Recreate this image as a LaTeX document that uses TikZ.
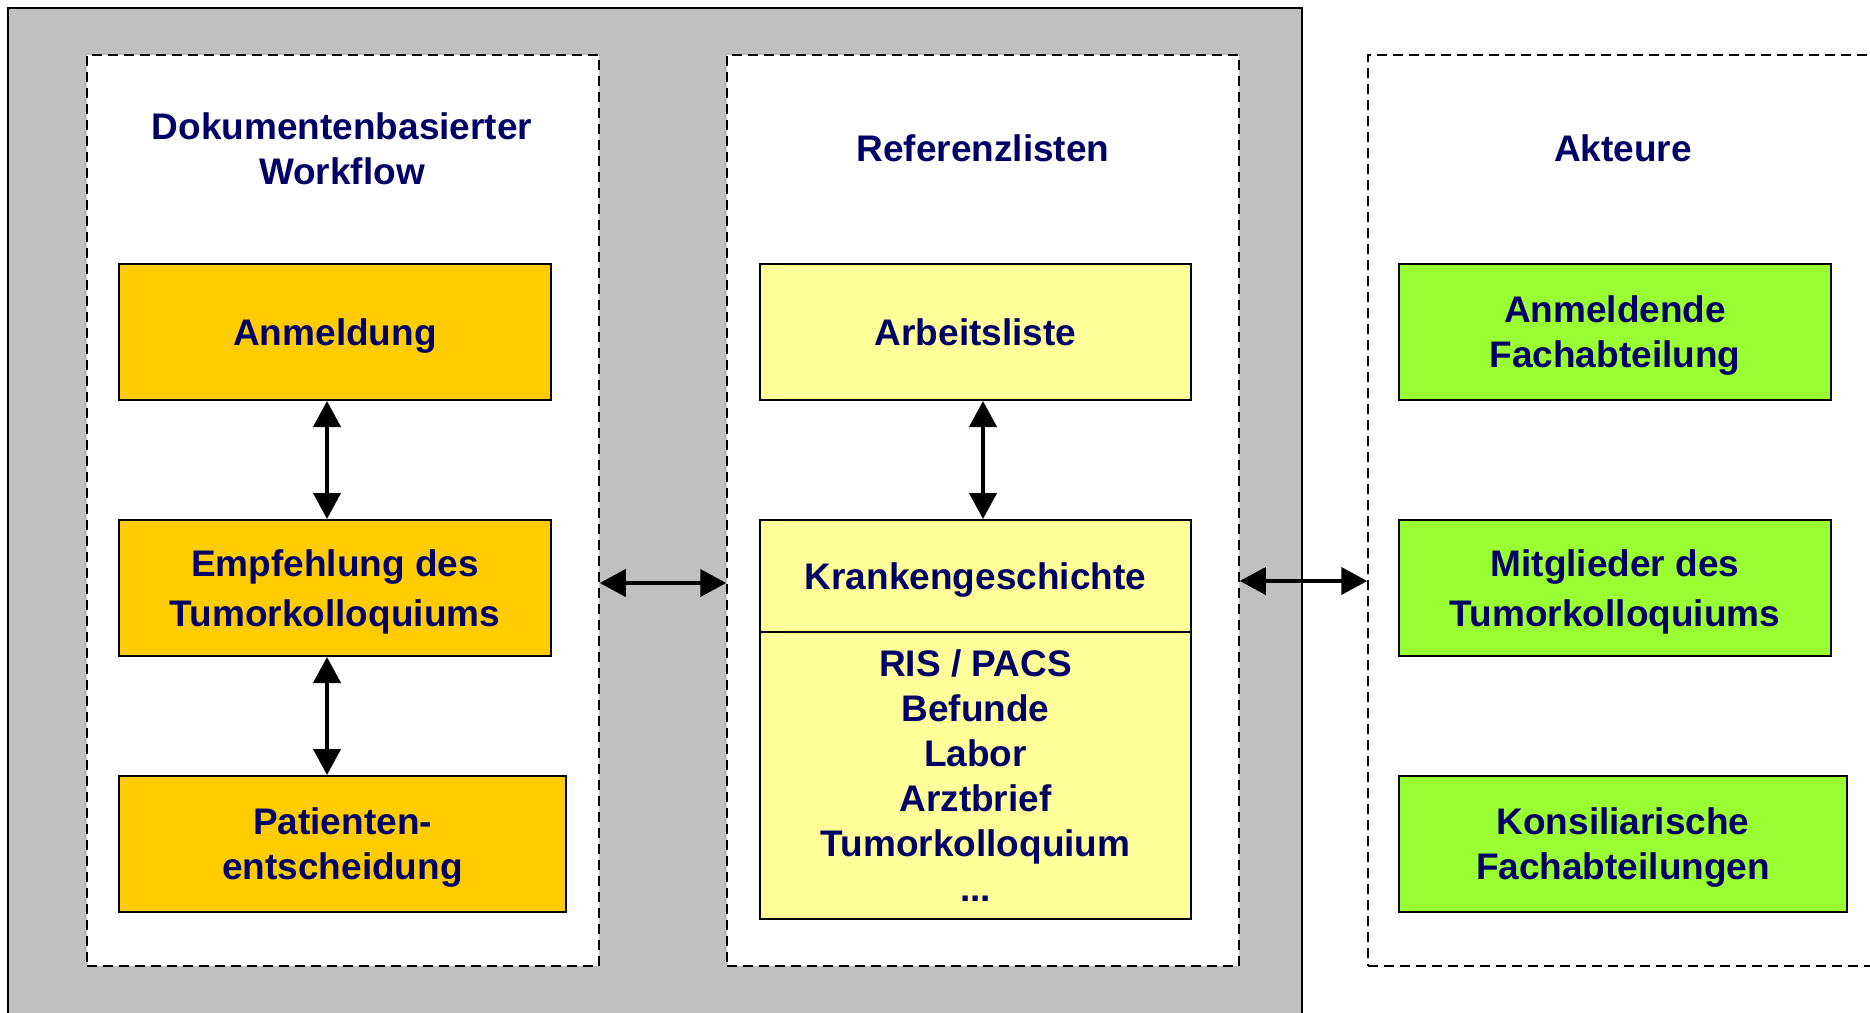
\documentclass[tikz,border=0pt]{standalone}
\usepackage{fontspec}
\setmainfont{Liberation Sans}
\usetikzlibrary{arrows.meta}
\definecolor{navy}{RGB}{0,0,102}
\definecolor{bggray}{RGB}{192,192,192}
\definecolor{orangebox}{RGB}{255,204,0}
\definecolor{yellowbox}{RGB}{255,255,153}
\definecolor{greenbox}{RGB}{153,255,51}
\tikzset{
  txt/.style={text=navy, font=\bfseries\fontsize{37}{45}\selectfont, align=center},
  col/.style={draw=black, fill=white, line width=1.5pt, dash pattern=on 10pt off 6pt, inner sep=0pt},
  box/.style={draw=black, line width=2pt, inner sep=0pt, text depth=0pt, txt},
  obox/.style={box, fill=orangebox},
  ybox/.style={box, fill=yellowbox},
  gbox/.style={box, fill=greenbox},
  arr/.style={line width=4pt, {Triangle[length=26pt,width=27pt]}-{Triangle[length=26pt,width=27pt]}}
}
\begin{document}
\begin{tikzpicture}[x=1pt,y=-1pt]
\useasboundingbox (0,0) rectangle (1870,1012);
\clip (0,0) rectangle (1870,1012);
\fill[white] (0,0) rectangle (1870,1012);
\draw[fill=bggray, line width=2pt] (8,8) rectangle (1302,1040);
% columns
\node[col, minimum width=512pt, minimum height=911pt] (wfcol) at (343,510.5) {};
\node[col, minimum width=512pt, minimum height=911pt] (refcol) at (983,510.5) {};
\node[col, minimum width=522pt, minimum height=911pt] (akcol) at (1629,510.5) {};
% titles
\node[txt] (t1) at (342,148.5) {Dokumentenbasierter\\Workflow};
\node[txt] (t2) at (983,148) {Referenzlisten};
\node[txt] (t3) at (1623,148) {Akteure};
% left column
\node[obox, minimum width=432pt, minimum height=136pt] (anm) at (335,332) {Anmeldung};
\node[obox, minimum width=432pt, minimum height=136pt, font=\bfseries\fontsize{37}{50}\selectfont] (emp) at (335,588) {Empfehlung des\\Tumorkolloquiums};
\node[obox, minimum width=447pt, minimum height=136pt] (pat) at (342.5,844) {Patienten-\\entscheidung};
% middle column
\node[ybox, minimum width=431pt, minimum height=136pt] (arb) at (975.5,332) {Arbeitsliste};
\node[ybox, minimum width=431pt, minimum height=112pt] (kg) at (975.5,576) {Krankengeschichte};
\node[ybox, minimum width=431pt, minimum height=287pt] (lst) at (975.5,775.5) {RIS / PACS\\Befunde\\Labor\\Arztbrief\\Tumorkolloquium\\...};
% right column
\node[gbox, minimum width=432pt, minimum height=136pt] (afa) at (1615,332) {Anmeldende\\Fachabteilung};
\node[gbox, minimum width=432pt, minimum height=136pt, font=\bfseries\fontsize{37}{50}\selectfont] (mit) at (1615,588) {Mitglieder des\\Tumorkolloquiums};
\node[gbox, minimum width=448pt, minimum height=136pt] (kon) at (1623,844) {Konsiliarische\\Fachabteilungen};
% arrows
\coordinate (vl) at (327,0);
\coordinate (vm) at (983,0);
\coordinate (hl) at (0,583);
\coordinate (hr) at (0,581);
\draw[arr] (anm.south -| vl) -- (emp.north -| vl);
\draw[arr] (emp.south -| vl) -- (pat.north -| vl);
\draw[arr] (arb.south -| vm) -- (kg.north -| vm);
\draw[arr] (wfcol.east |- hl) -- (refcol.west |- hl);
\draw[arr] (refcol.east |- hr) -- (akcol.west |- hr);
\end{tikzpicture}
\end{document}
